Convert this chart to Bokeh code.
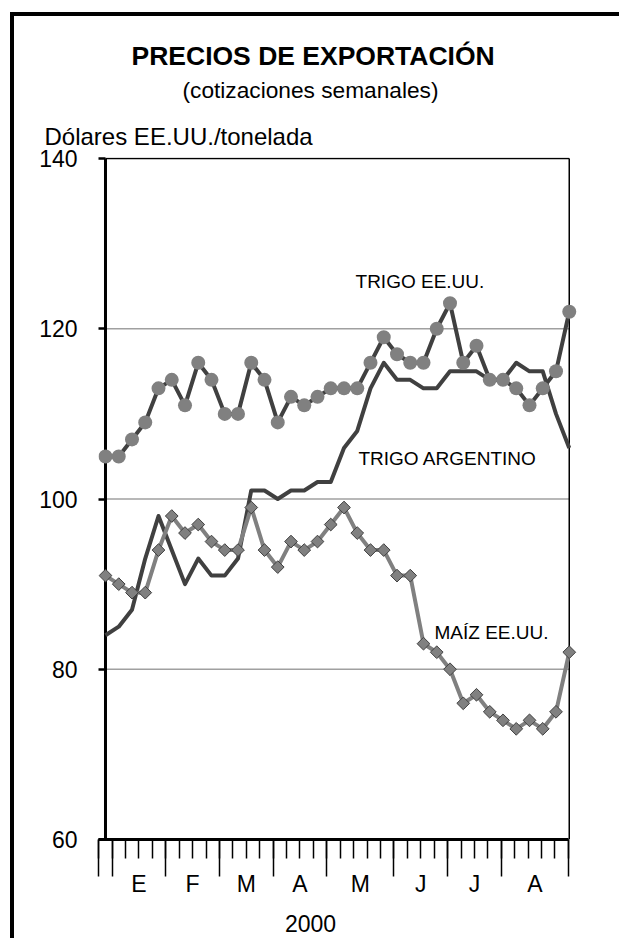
from bokeh.plotting import figure
from bokeh.models import Range1d, LinearAxis, FixedTicker, Title, Div
from bokeh.layouts import row, column
from bokeh.core.properties import value
from bokeh.embed import file_html
from bokeh.resources import INLINE

# ---------------- data ----------------
weeks = list(range(36))
trigo_eeuu = [105, 105, 107, 109, 113, 114, 111, 116, 114, 110, 110, 116, 114, 109, 112, 111, 112, 113,
              113, 113, 116, 119, 117, 116, 116, 120, 123, 116, 118, 114, 114, 113, 111, 113, 115, 122]
trigo_arg = [84, 85, 87, 93, 98, 94, 90, 93, 91, 91, 93, 101, 101, 100, 101, 101, 102, 102,
             106, 108, 113, 116, 114, 114, 113, 113, 115, 115, 115, 114, 114, 116, 115, 115, 110, 106]
maiz = [91, 90, 89, 89, 94, 98, 96, 97, 95, 94, 94, 99, 94, 92, 95, 94, 95, 97,
        99, 96, 94, 94, 91, 91, 83, 82, 80, 76, 77, 75, 74, 73, 74, 73, 75, 82]
month_labels = ["E", "F", "M", "A", "M", "J", "J", "A"]
weeks_per_month = [4, 4, 4, 4, 5, 4, 4, 5]
lead_weeks = 1
y_ticks = [60, 80, 100, 120, 140]
grid_vals = [80, 100, 120]
series_labels = ["TRIGO EE.UU.", "TRIGO ARGENTINO", "MAÍZ EE.UU."]
label_x = [18.87, 19.09, 24.83]
label_y = [125.6, 104.7, 84.35]

title_text = "PRECIOS DE EXPORTACIÓN"
subtitle_text = "(cotizaciones semanales)"
unit_text = "Dólares EE.UU./tonelada"
year_text = "2000"
text_center_x = 15.47   # horizontal centre of subtitle and year label (data units)

# ---------------- derived tick positions ----------------
boundaries = [0, lead_weeks]
for n in weeks_per_month:
    boundaries.append(boundaries[-1] + n)
all_week_ticks = list(range(boundaries[-1] + 1))
centers = [(boundaries[i] + boundaries[i + 1]) / 2 for i in range(1, len(boundaries) - 1)]
overrides = {c: m for c, m in zip(centers, month_labels)}

FONT = "Liberation Sans"
DARK = "#404040"
MID = "#808080"

W, H = 605, 922
p = figure(width=W, height=H,
           x_range=Range1d(-0.528, 35.698), y_range=Range1d(60, 140.1175),
           x_axis_type=None, y_axis_type=None, title=None,
           toolbar_location=None, output_backend="svg",
           min_border_left=84, min_border_right=41, min_border_top=141, min_border_bottom=99,
           outline_line_color=None, background_fill_color="white", border_fill_color="white")

p.extra_x_ranges = {"wk": Range1d(-0.015, 35.753)}


def blank_axis(**kw):
    base = dict(axis_line_color=None, major_tick_line_color=None, minor_tick_line_color=None,
                major_tick_out=0, major_tick_in=0, minor_tick_out=0, minor_tick_in=0,
                major_label_text_font=FONT, major_label_text_color="black")
    base.update(kw)
    return LinearAxis(**base)


# y axis (ticks inside the frame, axis line drawn as a data-domain segment)
yax = LinearAxis(ticker=FixedTicker(ticks=y_ticks, minor_ticks=[]),
                 axis_line_color=None, major_tick_in=7, major_tick_out=0,
                 major_tick_line_width=2.5, major_tick_line_color="black",
                 minor_tick_line_color=None, major_label_standoff=21,
                 major_label_text_font=FONT, major_label_text_font_size="23px",
                 major_label_text_color="black")
p.add_layout(yax, "left")

# week tick axis (marks only)
tax = LinearAxis(x_range_name="wk",
                 ticker=FixedTicker(ticks=boundaries, minor_ticks=all_week_ticks),
                 bounds=(boundaries[0], boundaries[-1]),
                 axis_line_width=3, axis_line_color="black",
                 major_tick_out=37, major_tick_in=0, minor_tick_out=19, minor_tick_in=0,
                 major_tick_line_width=1.5, minor_tick_line_width=1.5,
                 major_tick_line_color="black", minor_tick_line_color="black",
                 major_label_text_font_size="0px", major_label_text_color=None,
                 major_label_standoff=0)
p.add_layout(tax, "below")

# month label axis
lax = blank_axis(x_range_name="wk",
                 ticker=FixedTicker(ticks=centers, minor_ticks=[]),
                 major_label_overrides=overrides,
                 major_label_standoff=-6, major_label_text_font_size="23px")
p.add_layout(lax, "below")

# year label axis
yrax = blank_axis(ticker=FixedTicker(ticks=[text_center_x], minor_ticks=[]),
                  major_label_overrides={text_center_x: year_text},
                  major_label_standoff=15, major_label_text_font_size="23px")
p.add_layout(yrax, "below")

# texts above the frame (first added is closest to the frame)
p.add_layout(Title(text=unit_text, align="left", offset=-54, standoff=16,
                   text_font=FONT, text_font_size="24px", text_font_style="normal",
                   text_color="black"), "above")
sax = blank_axis(ticker=FixedTicker(ticks=[text_center_x], minor_ticks=[]),
                 major_label_overrides={text_center_x: subtitle_text},
                 major_label_standoff=10, major_label_text_font_size="22.7px")
p.add_layout(sax, "above")
p.add_layout(Title(text=title_text, align="left", offset=33, standoff=6,
                   text_font=FONT, text_font_size="26.5px", text_font_style="bold",
                   text_color="black"), "above")

x0, x1 = weeks[0], weeks[-1]
ymin, ymax = y_ticks[0], y_ticks[-1]

# gridlines and frame lines from the data domain
p.segment(x0=[x0] * len(grid_vals), x1=[x1] * len(grid_vals), y0=grid_vals, y1=grid_vals,
          line_color="#a0a0a0", line_width=1.5)
p.segment(x0=[x0], x1=[x1], y0=[ymax], y1=[ymax], line_color="black", line_width=1.5)
p.segment(x0=[x1], x1=[x1], y0=[ymin], y1=[ymax], line_color="black", line_width=1.5)
p.segment(x0=[x0], x1=[x0], y0=[ymin], y1=[ymax], line_color="black", line_width=3)

# series
p.line(weeks, trigo_arg, line_color=DARK, line_width=4, line_join="round")
p.line(weeks, maiz, line_color=MID, line_width=4, line_join="round")
p.scatter(weeks, maiz, marker="square", angle=0.785398, size=9,
          fill_color=MID, line_color=DARK, line_width=1)
p.line(weeks, trigo_eeuu, line_color=DARK, line_width=4, line_join="round")
p.scatter(weeks, trigo_eeuu, marker="circle", size=14, fill_color=MID, line_color=None)

p.text(x=label_x, y=label_y, text=series_labels, text_font=value(FONT),
       text_font_size="19px", text_color="black", text_align="left",
       text_baseline="alphabetic")

leftbar = Div(width=4, height=H + 4, styles={"background-color": "black"}, margin=0)
topbar = Div(width=W, height=4, styles={"background-color": "black"}, margin=0)
root = row(leftbar, column(topbar, p, spacing=0, margin=0), spacing=0, margin=(12, 0, 0, 10))

open("out.html", "w").write(file_html(root, INLINE))
